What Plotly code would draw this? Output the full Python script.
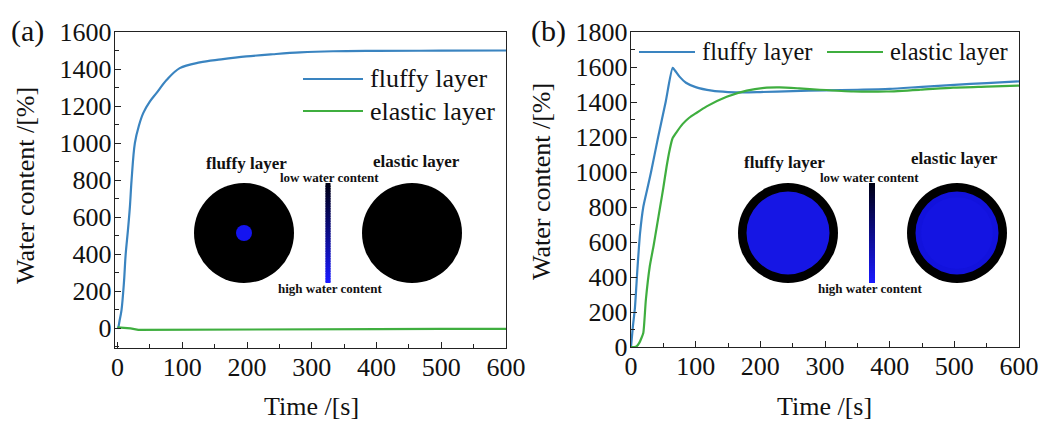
import plotly.graph_objects as go

W, H = 1046, 423

# ---------------- data ----------------
t_a_fluffy = [0, 1, 3, 6, 9.7, 12.5, 16, 19, 21.6, 26.7, 33, 39.6, 50, 60, 76, 96, 127, 160, 199, 240, 282, 333, 400, 500, 600]
a_fluffy = [0, 5, 40, 97, 242, 400, 530, 656, 800, 1000, 1095, 1162, 1225, 1270, 1342, 1405, 1436, 1452, 1468, 1480, 1490, 1496, 1498, 1499, 1500]
t_a_elastic = [0, 10, 20, 32, 100, 200, 300, 320, 400, 500, 600]
a_elastic = [5, 3, 0, -8, -8, -8, -8, -4, -4, -3, -3]

t_b_fluffy = [0, 3, 6, 10, 14, 19, 25, 31, 42, 53.6, 64.4, 68, 75, 85, 100, 125, 150, 175, 200, 250, 300, 350, 400, 450, 500, 550, 600]
b_fluffy = [0, 120, 220, 450, 650, 800, 900, 1000, 1200, 1400, 1595, 1580, 1545, 1510, 1485, 1465, 1457, 1455, 1457, 1462, 1467, 1470, 1475, 1487, 1498, 1508, 1518]
t_b_elastic = [0, 5, 9, 13, 16, 19, 23, 29, 35, 40, 45, 50, 55, 60, 64, 70, 80, 90, 100, 117, 148, 179, 210, 230, 260, 292, 344, 395, 447, 498, 550, 600]
b_elastic = [0, 0, 5, 25, 50, 80, 270, 460, 580, 690, 800, 910, 1030, 1130, 1190, 1225, 1275, 1310, 1335, 1375, 1430, 1465, 1482, 1484, 1478, 1470, 1460, 1460, 1470, 1482, 1488, 1494]

series_names = ["fluffy layer", "elastic layer"]
blue = "#3a84c0"
green = "#3fae3f"

x_ticks = [0, 100, 200, 300, 400, 500, 600]
y_ticks_a = [0, 200, 400, 600, 800, 1000, 1200, 1400, 1600]
y_ticks_b = [0, 200, 400, 600, 800, 1000, 1200, 1400, 1600, 1800]


def px(x):
    return x / W


def py(y):
    return 1 - y / H


FONT = "Liberation Serif"

fig = go.Figure()
fig.add_trace(go.Scatter(x=t_a_fluffy, y=a_fluffy, mode="lines", name=series_names[0],
                         line=dict(color=blue, width=2.2, shape="spline"), xaxis="x", yaxis="y"))
fig.add_trace(go.Scatter(x=t_a_elastic, y=a_elastic, mode="lines", name=series_names[1],
                         line=dict(color=green, width=2.2), xaxis="x", yaxis="y"))
fig.add_trace(go.Scatter(x=t_b_fluffy, y=b_fluffy, mode="lines", name=series_names[0],
                         line=dict(color=blue, width=2.2, shape="spline", smoothing=0.6), xaxis="x2", yaxis="y2"))
fig.add_trace(go.Scatter(x=t_b_elastic, y=b_elastic, mode="lines", name=series_names[1],
                         line=dict(color=green, width=2.2, shape="spline", smoothing=0.6), xaxis="x2", yaxis="y2"))

axis_common = dict(showline=True, linecolor="#222", linewidth=1.4, mirror=True, ticks="inside",
                   ticklen=6, tickwidth=1.3, tickcolor="#222", showgrid=False, zeroline=False,
                   automargin=False,
                   tickfont=dict(family=FONT, size=26, color="#111"),
                   minor=dict(ticks="inside", ticklen=3.5, tickwidth=1.1, tickcolor="#222", showgrid=False))

fig.update_layout(
    template="none",
    width=W, height=H, margin=dict(l=0, r=0, t=0, b=0, pad=0, autoexpand=False),
    paper_bgcolor="white", plot_bgcolor="white",
    xaxis=dict(domain=[px(115), px(506)], range=[-4, 600], tickvals=x_ticks, anchor="y",
               minor_dtick=50, ticklabelstandoff=-4, **axis_common),
    yaxis=dict(domain=[py(348), py(32)], range=[-106, 1600], tickvals=y_ticks_a, anchor="x",
               minor_dtick=100, ticklabelstandoff=-3, **axis_common),
    xaxis2=dict(domain=[px(631), px(1019)], range=[0, 600], tickvals=x_ticks, anchor="y2",
                minor_dtick=50, ticklabelstandoff=-4, **axis_common),
    yaxis2=dict(domain=[py(347), py(32)], range=[0, 1800], tickvals=y_ticks_b, anchor="x2",
                minor_dtick=100, ticklabelstandoff=-3, **axis_common),
    showlegend=False,
)

ann = []
shapes = []


def text_at(text, x, y, size, angle=0, xanchor="center"):
    ann.append(dict(text=text, x=px(x), y=py(y), textangle=angle, showarrow=False,
                    xref="paper", yref="paper", xanchor=xanchor, yanchor="middle",
                    font=dict(family=FONT, size=size, color="#111")))


def legend_entry(x0, x1, y, color, name, size):
    shapes.append(dict(type="line", xref="paper", yref="paper", x0=px(x0), x1=px(x1), y0=py(y), y1=py(y),
                       line=dict(color=color, width=2.2), layer="above"))
    text_at(name, x1 + 5, y, size, xanchor="left")


# axis titles and panel labels
text_at("Water content /[%]", 25, 186, 26, -90)
text_at("Water content /[%]", 542, 182, 26, -90)
text_at("Time /[s]", 311, 406, 26)
text_at("Time /[s]", 824, 406, 26)
text_at("(a)", 27, 31, 30)
text_at("(b)", 548, 31, 30)

# legends
legend_entry(303, 363, 79, blue, series_names[0], 26)
legend_entry(303, 363, 111, green, series_names[1], 26)
legend_entry(639, 695, 52, blue, series_names[0], 24.5)
legend_entry(827, 883, 52, green, series_names[1], 24.5)


def circle(cx, cy, r, color):
    shapes.append(dict(type="circle", xref="paper", yref="paper", x0=px(cx - r), x1=px(cx + r),
                       y0=py(cy + r), y1=py(cy - r), fillcolor=color, line=dict(width=0), layer="above"))


def gradient_bar(cx, top, bottom, w):
    n = 40
    for i in range(n):
        f = i / (n - 1)
        r = int(0 + 26 * f)
        g = int(0 + 26 * f)
        b = int(20 + 235 * f)
        y0 = top + (bottom - top) * i / n
        y1 = top + (bottom - top) * (i + 1) / n
        if i < n - 1:
            y1 += 1.5
        shapes.append(dict(type="rect", xref="paper", yref="paper", x0=px(cx - w / 2), x1=px(cx + w / 2),
                           y0=py(y1), y1=py(y0), fillcolor=f"rgb({r},{g},{b})", line=dict(width=0),
                           layer="above"))


def inset_text(text, x, y, size):
    text_at(f"<b>{text}</b>", x, y, size)


# inset (a)
circle(244, 233, 50, "#000000")
circle(244, 233, 8, "#1414f0")
circle(412, 233, 50, "#000000")
gradient_bar(328, 183, 283, 5)
inset_text("fluffy layer", 246, 163, 17)
inset_text("elastic layer", 416, 161, 17)
inset_text("low water content", 329, 177, 13)
inset_text("high water content", 330, 288, 13)

# inset (b)
circle(788, 233, 50, "#000000")
circle(788, 233, 41.5, "#1616e4")
circle(957, 233, 50, "#000000")
circle(957, 233, 41.5, "#1212dc")
circle(957, 233, 36, "#1414e2")
gradient_bar(872, 183, 283, 6)
inset_text("fluffy layer", 784, 162, 17)
inset_text("elastic layer", 954, 158, 17)
inset_text("low water content", 869, 177, 13)
inset_text("high water content", 870, 288, 13)

fig.update_layout(annotations=ann, shapes=shapes)
fig.write_html("out.html")
